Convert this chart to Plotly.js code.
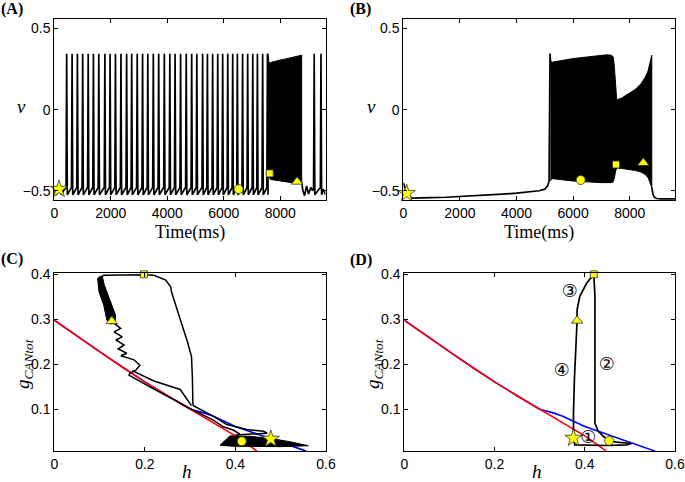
<!DOCTYPE html>
<html><head><meta charset="utf-8">
<script src="https://cdn.plot.ly/plotly-3.0.1.min.js"></script>
<style>html,body{margin:0;padding:0;background:#fff}#chart{width:685px;height:482px}</style>
</head><body><div id="chart"></div><script>
// ---------- Panel A: v(t) ----------
const preA_t = [0, 70, 170, 260, 330];
const preA_v = [-0.50, -0.525, -0.49, -0.525, -0.50];
const spikeTimesA = [438, 630, 818, 1005, 1200, 1385, 1575, 1790, 1975, 2165, 2360, 2560, 2740, 2935, 3125, 3310, 3505, 3695, 3895, 4090, 4275, 4470, 4670, 4863, 5045, 5250, 5420, 5605, 5785, 5960, 6140, 6315, 6480, 6665, 6845, 7025, 7190, 7375, 7545];
const spikePeakA = 0.345, spikeBaseA = -0.48, spikeTroughA = -0.525;
const burstA_t   = [7565, 7600, 7650, 7800, 8000, 8200, 8400, 8600, 8757];
const burstA_top = [0.345, 0.285, 0.29, 0.298, 0.306, 0.313, 0.32, 0.33, 0.336];
const burstA_bot = [-0.40, -0.41, -0.43, -0.435, -0.44, -0.445, -0.45, -0.45, -0.445];
const postA_t = [8757, 8800, 8860, 8930, 9000, 9080, 9150];
const postA_v = [-0.445, -0.50, -0.53, -0.47, -0.52, -0.48, -0.50];
const spikeTimesA2 = [9200, 9440];
const endA_t = [9520, 9600];
const endA_v = [-0.49, -0.525];
const markA = {star: [167, -0.49], circle: [6525, -0.49], square: [7625, -0.393], triangle: [8595, -0.444]};

// ---------- Panel B: v(t) ----------
const preB_t = [0, 150, 300, 600, 1000, 1500, 2000, 2500, 3000, 3500, 4000, 4500, 4800, 5000, 5100, 5150, 5184, 5205];
const preB_v = [-0.45, -0.53, -0.545, -0.545, -0.542, -0.54, -0.536, -0.532, -0.527, -0.521, -0.515, -0.508, -0.50, -0.49, -0.47, -0.44, 0.346, 0.29];
const burstB_t   = [5195, 5250, 5500, 6000, 6500, 7000, 7200, 7350, 7420, 7460, 7500, 7540, 7700, 8000, 8200, 8400, 8550, 8650, 8720, 8780];
const burstB_top = [0.30, 0.292, 0.30, 0.315, 0.325, 0.335, 0.338, 0.335, 0.325, 0.26, 0.12, 0.06, 0.07, 0.10, 0.125, 0.16, 0.20, 0.24, 0.30, 0.335];
const burstB_bot = [-0.44, -0.425, -0.43, -0.44, -0.445, -0.45, -0.45, -0.45, -0.445, -0.42, -0.38, -0.36, -0.362, -0.368, -0.375, -0.385, -0.40, -0.42, -0.45, -0.48];
const postB_t = [8780, 8820, 8870, 8950, 9100, 9300, 9600];
const postB_v = [-0.48, -0.52, -0.54, -0.548, -0.55, -0.55, -0.55];
const markB = {star: [120, -0.516], circle: [6268, -0.434], square: [7515, -0.338], triangle: [8480, -0.328]};

// ---------- Nullclines (C, D) ----------
const blue_h = [0, 0.05, 0.1, 0.15, 0.2, 0.25, 0.3, 0.33, 0.35, 0.4, 0.45, 0.5, 0.556];
const blue_g = [0.298, 0.262, 0.228, 0.194, 0.161, 0.13, 0.1, 0.092, 0.085, 0.062, 0.044, 0.027, 0.007];
const red_h = [0, 0.05, 0.1, 0.15, 0.2, 0.25, 0.3, 0.35, 0.4, 0.448];
const red_g = [0.298, 0.262, 0.228, 0.194, 0.161, 0.13, 0.1, 0.071, 0.041, 0.007];

// ---------- Panel C: trajectory ----------
const wedgeC_h = [0.366, 0.388, 0.43, 0.473, 0.52, 0.561, 0.50, 0.395, 0.366];
const wedgeC_g = [0.020, 0.041, 0.040, 0.036, 0.028, 0.019, 0.017, 0.0178, 0.020];
const bandC_h = [0.0956, 0.0987, 0.109, 0.116, 0.124, 0.135, 0.135, 0.1215, 0.1105, 0.106, 0.0956];
const bandC_g = [0.391, 0.361, 0.332, 0.298, 0.290, 0.291, 0.310, 0.347, 0.376, 0.395, 0.391];
const path1C_h = [0.40, 0.44, 0.47, 0.462, 0.425, 0.381, 0.351, 0.307, 0.306, 0.305, 0.303, 0.294, 0.279, 0.265, 0.259, 0.257, 0.246, 0.22, 0.198, 0.11, 0.097];
const path1C_g = [0.043, 0.045, 0.047, 0.051, 0.055, 0.066, 0.085, 0.108, 0.113, 0.17, 0.217, 0.25, 0.295, 0.34, 0.36, 0.372, 0.387, 0.398, 0.399, 0.398, 0.392];
const path2C_h = [0.127, 0.1356, 0.1466, 0.132, 0.150, 0.136, 0.154, 0.141, 0.160, 0.147, 0.176, 0.189, 0.180, 0.167, 0.165, 0.211, 0.263, 0.307, 0.351, 0.373, 0.395, 0.41];
const path2C_g = [0.295, 0.289, 0.280, 0.272, 0.261, 0.254, 0.243, 0.234, 0.2245, 0.219, 0.210, 0.198, 0.187, 0.180, 0.176, 0.150, 0.121, 0.098, 0.076, 0.061, 0.054, 0.045];
const path3C_h = [0.172, 0.22, 0.278, 0.303];
const path3C_g = [0.186, 0.163, 0.144, 0.108];
const markC = {star: [0.478, 0.034], circle: [0.414, 0.029], square: [0.198, 0.4], triangle: [0.127, 0.296]};

// ---------- Panel D: trajectory ----------
const pathD_h = [0.375, 0.378, 0.45, 0.493, 0.504, 0.47, 0.455, 0.441, 0.43, 0.4226, 0.4226, 0.4226, 0.420, 0.404, 0.389, 0.383, 0.383, 0.380, 0.377, 0.375, 0.375];
const pathD_g = [0.036, 0.021, 0.0195, 0.021, 0.024, 0.027, 0.03, 0.04, 0.051, 0.069, 0.2, 0.35, 0.4, 0.38, 0.351, 0.321, 0.297, 0.24, 0.166, 0.092, 0.036];
const markD = {star: [0.375, 0.036], circle: [0.454, 0.030], square: [0.420, 0.4], triangle: [0.383, 0.297]};
const labelsD = ['\u2460', '\u2461', '\u2462', '\u2463'];
const labelsD_h = [0.408, 0.449, 0.367, 0.349];
const labelsD_g = [0.036, 0.198, 0.359, 0.184];

// ---------- Axis ticks ----------
const tTicks = [0, 2000, 4000, 6000, 8000];
const vTicks = [-0.5, 0, 0.5];
const hTicks = [0, 0.2, 0.4, 0.6];
const gTicks = [0.1, 0.2, 0.3, 0.4];

// ---------- build ----------
const W = 685, H = 482;
const BLK = '#000';
function spikeLine(t0, v0, spikes, t1, v1) {
  const x = t0.slice(), y = v0.slice();
  spikes.forEach(t => { x.push(t - 22, t, t + 22); y.push(spikeBaseA, spikePeakA, spikeTroughA); });
  return {x: x.concat(t1), y: y.concat(v1)};
}
function poly(xs, top, bot) {
  return {x: xs.concat(xs.slice().reverse()), y: top.concat(bot.slice().reverse())};
}
function line(x, y, xa, ya, color, w) {
  return {type: 'scatter', mode: 'lines', x, y, xaxis: xa, yaxis: ya, line: {color, width: w}, hoverinfo: 'skip', showlegend: false};
}
function fillPoly(x, y, xa, ya) {
  return {type: 'scatter', mode: 'lines', x, y, xaxis: xa, yaxis: ya, fill: 'toself', fillcolor: BLK, line: {color: BLK, width: 1}, hoverinfo: 'skip', showlegend: false};
}
function markers(m, xa, ya) {
  const defs = [['star', 'star', 13], ['circle', 'circle', 9], ['square', 'square', 7], ['triangle', 'triangle-up', 10]];
  return defs.map(d => ({type: 'scatter', mode: 'markers', x: [m[d[0]][0]], y: [m[d[0]][1]], xaxis: xa, yaxis: ya,
    marker: {symbol: d[1], size: d[2], color: '#ffff00', line: {color: '#333', width: 0.8}}, hoverinfo: 'skip', showlegend: false, cliponaxis: false}));
}

const traces = [];
// A
const a1 = spikeLine(preA_t, preA_v, spikeTimesA, [], []);
traces.push(line(a1.x, a1.y, 'x', 'y', BLK, 1.7));
const pa = poly(burstA_t, burstA_top, burstA_bot);
traces.push(fillPoly(pa.x, pa.y, 'x', 'y'));
const a2 = spikeLine(postA_t, postA_v, spikeTimesA2, endA_t, endA_v);
traces.push(line(a2.x, a2.y, 'x', 'y', BLK, 1.7));
traces.push(...markers(markA, 'x', 'y'));
// B
traces.push(line(preB_t, preB_v, 'x2', 'y2', BLK, 1.7));
const pb = poly(burstB_t, burstB_top, burstB_bot);
traces.push(fillPoly(pb.x, pb.y, 'x2', 'y2'));
traces.push(line(postB_t, postB_v, 'x2', 'y2', BLK, 1.7));
traces.push(...markers(markB, 'x2', 'y2'));
// C
traces.push(line(blue_h, blue_g, 'x3', 'y3', '#0000ff', 1.6));
traces.push(line(red_h, red_g, 'x3', 'y3', '#ff0000', 1.6));
traces.push(fillPoly(wedgeC_h, wedgeC_g, 'x3', 'y3'));
traces.push(fillPoly(bandC_h, bandC_g, 'x3', 'y3'));
traces.push(line(path1C_h, path1C_g, 'x3', 'y3', BLK, 1.5));
traces.push(line(path2C_h, path2C_g, 'x3', 'y3', BLK, 1.5));
traces.push(line(path3C_h, path3C_g, 'x3', 'y3', BLK, 1.5));
traces.push(...markers(markC, 'x3', 'y3'));
// D
traces.push(line(blue_h, blue_g, 'x4', 'y4', '#0000ff', 1.6));
traces.push(line(red_h, red_g, 'x4', 'y4', '#ff0000', 1.6));
traces.push(line(pathD_h, pathD_g, 'x4', 'y4', BLK, 1.7));
traces.push(...markers(markD, 'x4', 'y4'));
traces.push({type: 'scatter', mode: 'text', x: labelsD_h, y: labelsD_g, text: labelsD, xaxis: 'x4', yaxis: 'y4',
  textfont: {family: 'DejaVu Sans, Noto Sans CJK JP', size: 18, color: '#000'}, hoverinfo: 'skip', showlegend: false});

function ax(dom, range, tickvals, anchor) {
  return {domain: dom, range, tickvals, anchor, showgrid: false, zeroline: false, showline: true, linecolor: '#000', linewidth: 1,
    mirror: 'ticks', ticks: 'inside', ticklen: 4, tickcolor: '#000', tickwidth: 1,
    tickfont: {family: 'Liberation Sans, Arial, sans-serif', size: 14, color: '#000'}, fixedrange: true};
}
const dx = (a, b) => [a / W, b / W];
const dy = (top, bot) => [1 - bot / H, 1 - top / H];
const serif = 'Liberation Serif, Times New Roman, serif';
function ann(text, px, py, size, extra) {
  return Object.assign({text, x: px / W, y: 1 - py / H, xref: 'paper', yref: 'paper', showarrow: false,
    xanchor: 'center', yanchor: 'middle', font: {family: serif, size, color: '#000'}}, extra || {});
}

const layout = {
  width: W, height: H, margin: {l: 0, r: 0, t: 0, b: 0}, paper_bgcolor: '#fff', plot_bgcolor: '#fff', showlegend: false,
  xaxis:  ax(dx(54.3, 325.5), [0, 9600], tTicks, 'y'),
  yaxis:  ax(dy(19.3, 200), [-0.557, 0.557], vTicks, 'x'),
  xaxis2: ax(dx(403.3, 675), [0, 9600], tTicks, 'y2'),
  yaxis2: ax(dy(19.3, 200), [-0.557, 0.557], vTicks, 'x2'),
  xaxis3: ax(dx(54.3, 326), [0, 0.6], hTicks, 'y3'),
  yaxis3: ax(dy(272.7, 451), [0.0073, 0.4036], gTicks, 'x3'),
  xaxis4: ax(dx(404.3, 675), [0, 0.6], hTicks, 'y4'),
  yaxis4: ax(dy(272.7, 451), [0.0073, 0.4036], gTicks, 'x4'),
  annotations: [
    ann('<b>(A)</b>', 12.5, 8.5, 16),
    ann('<b>(B)</b>', 360.5, 8.5, 16),
    ann('<b>(C)</b>', 12.5, 258.5, 16),
    ann('<b>(D)</b>', 360.5, 259.5, 16),
    ann('Time(ms)', 190, 232, 18),
    ann('Time(ms)', 539, 232, 18),
    ann('<i>v</i>', 21.5, 106, 19),
    ann('<i>v</i>', 371, 106, 19),
    ann('<i>h</i>', 186.5, 471, 19),
    ann('<i>h</i>', 536.5, 471, 19),
    ann('<i>g</i><sub><i>CANtot</i></sub>', 24, 364, 19, {textangle: -90}),
    ann('<i>g</i><sub><i>CANtot</i></sub>', 374, 364, 19, {textangle: -90})
  ]
};
Plotly.newPlot('chart', traces, layout, {staticPlot: true, displayModeBar: false});
</script></body></html>
